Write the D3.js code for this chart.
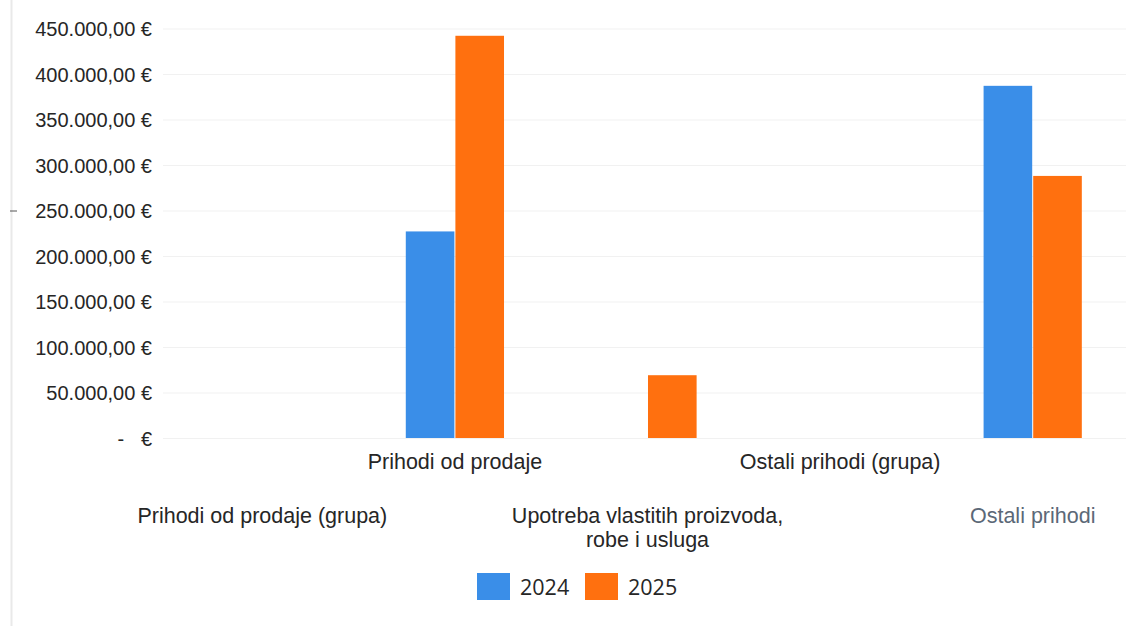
<!DOCTYPE html>
<html>
<head>
<meta charset="utf-8">
<script src="https://cdn.jsdelivr.net/npm/d3@7"></script>
<style>
    body { margin: 0; background: #fff; }
    svg { display: block; font-family: "Open Sans", "Liberation Sans", sans-serif; }
    .yLabel { font-size: 20px; fill: #262626; white-space: pre; }
    .catLabel { font-size: 21.5px; fill: #262626; }
    .legendLabel { font-size: 21.5px; fill: #262626; }
</style>
</head>
<body>
<svg width="1137" height="626"></svg>
<script>
// data
const categories = [
    "Prihodi od prodaje (grupa)",
    "Prihodi od prodaje",
    "Upotreba vlastitih proizvoda, robe i usluga",
    "Ostali prihodi (grupa)",
    "Ostali prihodi"
];
const catLines = [
    ["Prihodi od prodaje (grupa)"],
    ["Prihodi od prodaje"],
    ["Upotreba vlastitih proizvoda,", "robe i usluga"],
    ["Ostali prihodi (grupa)"],
    ["Ostali prihodi"]
];
const years = ["2024", "2025"];
const values2024 = [0, 227000, 0, 0, 387000];
const values2025 = [0, 442000, 69000, 0, 288000];
const yTicks = [0, 50000, 100000, 150000, 200000, 250000, 300000, 350000, 400000, 450000];

const colours = ["#3a8ee8", "#ff700f"];

//layout
const width = 1137;
const height = 626;
const plotLeft = 166;
const plotRight = 1129;
const yZero = 438;
const yTop = 28.5;

const svg = d3.select("svg");

const locale = d3.formatLocale({ decimal: ",", thousands: ".", grouping: [3], currency: ["", " €"] });
const money = locale.format(",.2f");

const x = d3.scaleBand()
    .domain(categories)
    .range([plotLeft, plotRight])
    .paddingInner(0.49)
    .paddingOuter(0.245);

const xInner = d3.scaleBand()
    .domain(years)
    .range([0, x.bandwidth()])
    .paddingInner(0.02);

const y = d3.scaleLinear()
    .domain([0, 450000])
    .range([yZero, yTop]);

const series = [values2024, values2025];
const rows = categories.map((c, i) => ({
    cat: c,
    vals: years.map((yr, j) => ({ year: yr, value: series[j][i], colour: colours[j] }))
}));

//left border and little mark
svg.append("line")
    .attr("x1", 11.5).attr("x2", 11.5)
    .attr("y1", 0).attr("y2", height)
    .attr("stroke", "#e9e9e9")
    .attr("stroke-width", 2);
svg.append("line")
    .attr("x1", 10).attr("x2", 17)
    .attr("y1", y(250000) + 0.5).attr("y2", y(250000) + 0.5)
    .attr("stroke", "#555");

//gridlines
svg.append("g")
    .attr("class", "grid")
    .attr("transform", "translate(" + (plotLeft - 3) + ",0)")
    .call(d3.axisLeft(y).tickValues(yTicks).tickSize(-(plotRight - plotLeft)).tickFormat(""))
    .call(g => g.select(".domain").remove())
    .call(g => g.selectAll("line").attr("stroke", "#f1f1f1"));

//y axis labels
const yAxis = svg.append("g")
    .attr("transform", "translate(152,0)")
    .call(d3.axisLeft(y).tickValues(yTicks).tickSize(0).tickPadding(0)
        .tickFormat(d => d === 0 ? "-   €" : money(d) + " €"));
yAxis.select(".domain").remove();
yAxis.selectAll("text")
    .attr("class", "yLabel")
    .attr("font-family", null)
    .attr("font-size", null)
    .attr("fill", null)
    .attr("dy", "0.35em");

//bars
const groups = svg.append("g")
    .selectAll("g")
    .data(rows)
    .enter()
    .append("g")
    .attr("transform", d => "translate(" + x(d.cat) + ",0)");

groups.selectAll("rect")
    .data(d => d.vals.filter(v => v.value > 0))
    .enter()
    .append("rect")
    .attr("x", d => xInner(d.year))
    .attr("y", d => y(d.value))
    .attr("width", xInner.bandwidth())
    .attr("height", d => yZero - y(d.value))
    .attr("fill", d => d.colour);

//category labels, staggered in two rows
const xAxis = svg.append("g")
    .attr("transform", "translate(0," + yZero + ")")
    .call(d3.axisBottom(x).tickSize(0).tickFormat(""));
xAxis.select(".domain").remove();

xAxis.selectAll(".tick").each(function (d, i) {
    const t = d3.select(this).append("text")
        .attr("class", "catLabel")
        .attr("text-anchor", "middle")
        .style("fill", i === 4 ? "#5b6877" : null);
    const base = i % 2 === 1 ? 31 : 85;
    catLines[i].forEach((line, k) => {
        t.append("tspan")
            .attr("x", 0)
            .attr("y", base + k * 24)
            .text(line);
    });
});

//legend
const legend = svg.append("g")
    .attr("transform", "translate(477,573)");
const legItems = legend.selectAll("g")
    .data(years)
    .enter()
    .append("g")
    .attr("transform", (d, i) => "translate(" + i * 108 + ",0)");
legItems.append("rect")
    .attr("width", 33)
    .attr("height", 27)
    .attr("fill", (d, i) => colours[i]);
legItems.append("text")
    .attr("class", "legendLabel")
    .attr("x", 43)
    .attr("y", 22)
    .text(d => d);
</script>
</body>
</html>
